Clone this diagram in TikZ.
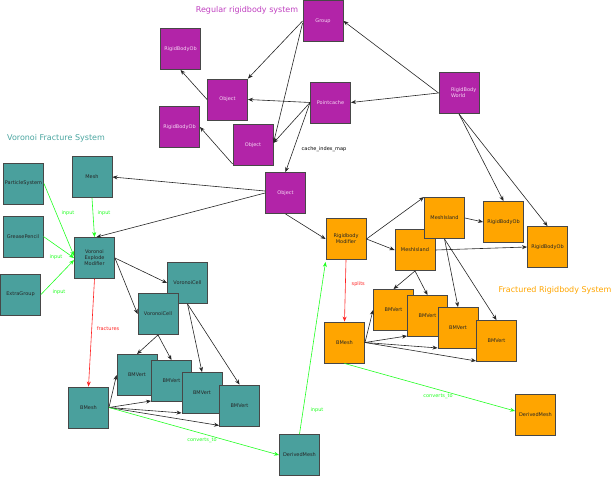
\documentclass[tikz,border=0pt]{standalone}
\usepackage{fontspec}
\setmainfont{DejaVu Sans}
\usetikzlibrary{arrows.meta,shadows}
\definecolor{rbpurple}{HTML}{B224A8}
\definecolor{rbtitle}{HTML}{C040C0}
\definecolor{vteal}{HTML}{4AA09D}
\definecolor{vtitle}{HTML}{4AA5A0}
\definecolor{frorange}{HTML}{FFA500}
\definecolor{lgreen}{HTML}{22FF22}
\definecolor{lred}{HTML}{FF2222}
\definecolor{ptext}{HTML}{F6D8F4}
\begin{document}
\begin{tikzpicture}[x=1pt,y=-1pt,
  box/.style={rectangle,minimum width=40pt,minimum height=41pt,inner sep=0pt,
    draw=black!72,line width=0.9pt,font=\fontsize{5}{6}\selectfont,align=center,
    drop shadow={shadow xshift=0.7pt,shadow yshift=-0.7pt,fill=black,opacity=1}},
  pbox/.style={box,fill=rbpurple,text=ptext},
  tbox/.style={box,fill=vteal,text=black!85},
  obox/.style={box,fill=frorange,text=black!85},
  arr/.style={-{Stealth[length=5pt,width=4pt]},line width=0.6pt,draw=black!85},
  garr/.style={arr,draw=lgreen},
  rarr/.style={arr,draw=lred},
  lbl/.style={font=\fontsize{5}{6}\selectfont,inner sep=0pt},
  title/.style={font=\fontsize{8}{9}\selectfont,inner sep=0pt}]
\useasboundingbox (0,0) rectangle (612,476);

% titles
\node[title,text=rbtitle] (t1) at (247,10) {Regular rigidbody system};
\node[title,text=vtitle] (t2) at (56,138) {Voronoi Fracture System};
\node[title,text=frorange] (t3) at (555,290) {Fractured Rigidbody System};

% purple
\node[pbox] (group) at (323,21) {Group};
\node[pbox] (rbo1) at (180.5,49) {RigidBodyOb};
\node[pbox] (obj1) at (227.5,99.5) {Object};
\node[pbox] (rbo2) at (179.5,127) {RigidBodyOb};
\node[pbox] (obj2) at (253,145) {Object};
\node[pbox] (pc) at (330.5,102.5) {Pointcache};
\node[pbox,align=left,text width=16pt] (rbw) at (459,93) {\\[-2pt]RigidBody\\World};
\node[pbox] (obj3) at (285.5,193) {Object};
\node[lbl] (cim) at (324,149) {cache\_index\_map};

% orange
\node[obox] (rm) at (346,239) {Rigidbody\\Modifier};
\node[obox] (mi2) at (415,250) {MeshIsland};
\node[obox] (mi1) at (444.5,218) {MeshIsland};
\node[obox] (orbo1) at (503.5,222) {RigidBodyOb};
\node[obox] (orbo2) at (547.5,247) {RigidBodyOb};
\node[obox] (obm) at (344.5,342.5) {BMesh};
\node[obox] (obv1) at (393.5,310) {BMVert};
\node[obox] (obv2) at (427.5,316) {BMVert};
\node[obox] (obv3) at (458,328) {BMVert};
\node[obox] (obv4) at (496.5,341) {BMVert};
\node[obox] (odm) at (535.5,415) {DerivedMesh};

% teal
\node[tbox] (mesh) at (92,177) {Mesh};
\node[tbox] (ps) at (23.5,183.5) {ParticleSystem};
\node[tbox] (gp) at (23,236.5) {GreasePencil};
\node[tbox] (eg) at (20.5,294.5) {ExtraGroup};
\node[tbox] (vem) at (94.5,258) {Voronoi\\Explode\\Modifier};
\node[tbox] (vc1) at (187.5,283) {VoronoiCell};
\node[tbox] (vc2) at (158,314) {VoronoiCell};
\node[tbox] (tbv1) at (137,375) {BMVert};
\node[tbox] (tbv2) at (171.5,381) {BMVert};
\node[tbox] (tbv3) at (202,393) {BMVert};
\node[tbox] (tbv4) at (239.5,405.5) {BMVert};
\node[tbox] (tbm) at (88.5,407.5) {BMesh};
\node[tbox] (tdm) at (299.5,455) {DerivedMesh};

% purple edges
\draw[arr] (group.west) -- (obj1.north east);
\draw[arr] ([yshift=-2pt]group.west) -- ([yshift=2pt]obj2.east);
\draw[arr] (rbw.west) -- (group.east);
\draw[arr] (rbw.west) -- (pc.east);
\draw[arr] (pc.west) -- (obj1.east);
\draw[arr] (pc.west) -- ([yshift=2pt]obj2.east);
\draw[arr] (pc.west) -- (obj3.north);
\draw[arr] (obj1.west) -- (rbo1.south);
\draw[arr] ([yshift=2pt]obj2.south west) -- (rbo2.east);
\draw[arr] ([yshift=2pt]obj3.west) -- (mesh.east);
\draw[arr] (obj3.west) -- ([xshift=2pt]vem.north);
\draw[arr] (obj3.south) -- (rm.west);
\draw[arr] (rbw.south) -- (orbo1.north);
\draw[arr] (rbw.south) -- (orbo2.north);

% orange edges
\draw[arr] (rm.east) -- (mi1.north west);
\draw[arr] (rm.east) -- (mi2.west);
\draw[arr] (mi1.east) -- (orbo1.west);
\draw[arr] (mi2.east) -- (orbo2.west);
\draw[arr] (mi2.south) -- (obv1.north);
\draw[arr] (mi2.south) -- (obv2.north);
\draw[arr] (mi1.south) -- (obv3.north);
\draw[arr] (mi1.south) -- (obv4.north);
\draw[rarr] (rm.south) -- node[lbl,text=lred,pos=0.4,right=6pt] {splits} (obm.north);
\draw[arr] (obm.east) -- (obv1.west);
\draw[arr] (obm.east) -- ([yshift=1pt]obv2.south west);
\draw[arr] (obm.east) -- ([yshift=1pt]obv3.south west);
\draw[arr] (obm.east) -- ([yshift=1pt]obv4.south west);
\draw[garr] (obm.south) -- ([yshift=4pt]odm.west);
\node[lbl,text=lgreen] (lct2) at (438,396) {converts\_to};

% teal edges
\draw[garr] (mesh.south) -- (vem.north);
\node[lbl,text=lgreen] (li2) at (104,213) {input};
\draw[garr] (ps.east) -- ([yshift=2pt]vem.west);
\node[lbl,text=lgreen] (li1) at (68,213) {input};
\draw[garr] (gp.east) -- (vem.west);
\node[lbl,text=lgreen] (li3) at (56,257) {input};
\draw[garr] (eg.east) -- ([yshift=-2pt]vem.west);
\node[lbl,text=lgreen] (li4) at (59,292) {input};
\draw[arr] (vem.east) -- (vc1.west);
\draw[arr] (vem.east) -- (vc2.west);
\draw[arr] (vc2.south) -- (tbv1.north);
\draw[arr] (vc2.south) -- (tbv2.north);
\draw[arr] (vc1.south) -- (tbv3.north);
\draw[arr] (vc1.south) -- (tbv4.north);
\draw[rarr] (vem.south) -- (tbm.north);
\node[lbl,text=lred] (lfr) at (108,329) {fractures};
\draw[arr] (tbm.east) -- (tbv1.west);
\draw[arr] (tbm.east) -- ([yshift=1pt]tbv2.south west);
\draw[arr] (tbm.east) -- ([yshift=1pt]tbv3.south west);
\draw[arr] (tbm.east) -- ([yshift=1pt]tbv4.south west);
\draw[garr] (tbm.east) -- (tdm.west);
\node[lbl,text=lgreen] (lct1) at (202,440) {converts\_to};
\draw[garr] (tdm.north) -- ([yshift=-2pt]rm.south west);
\node[lbl,text=lgreen] (li5) at (317,410) {input};
\end{tikzpicture}
\end{document}
